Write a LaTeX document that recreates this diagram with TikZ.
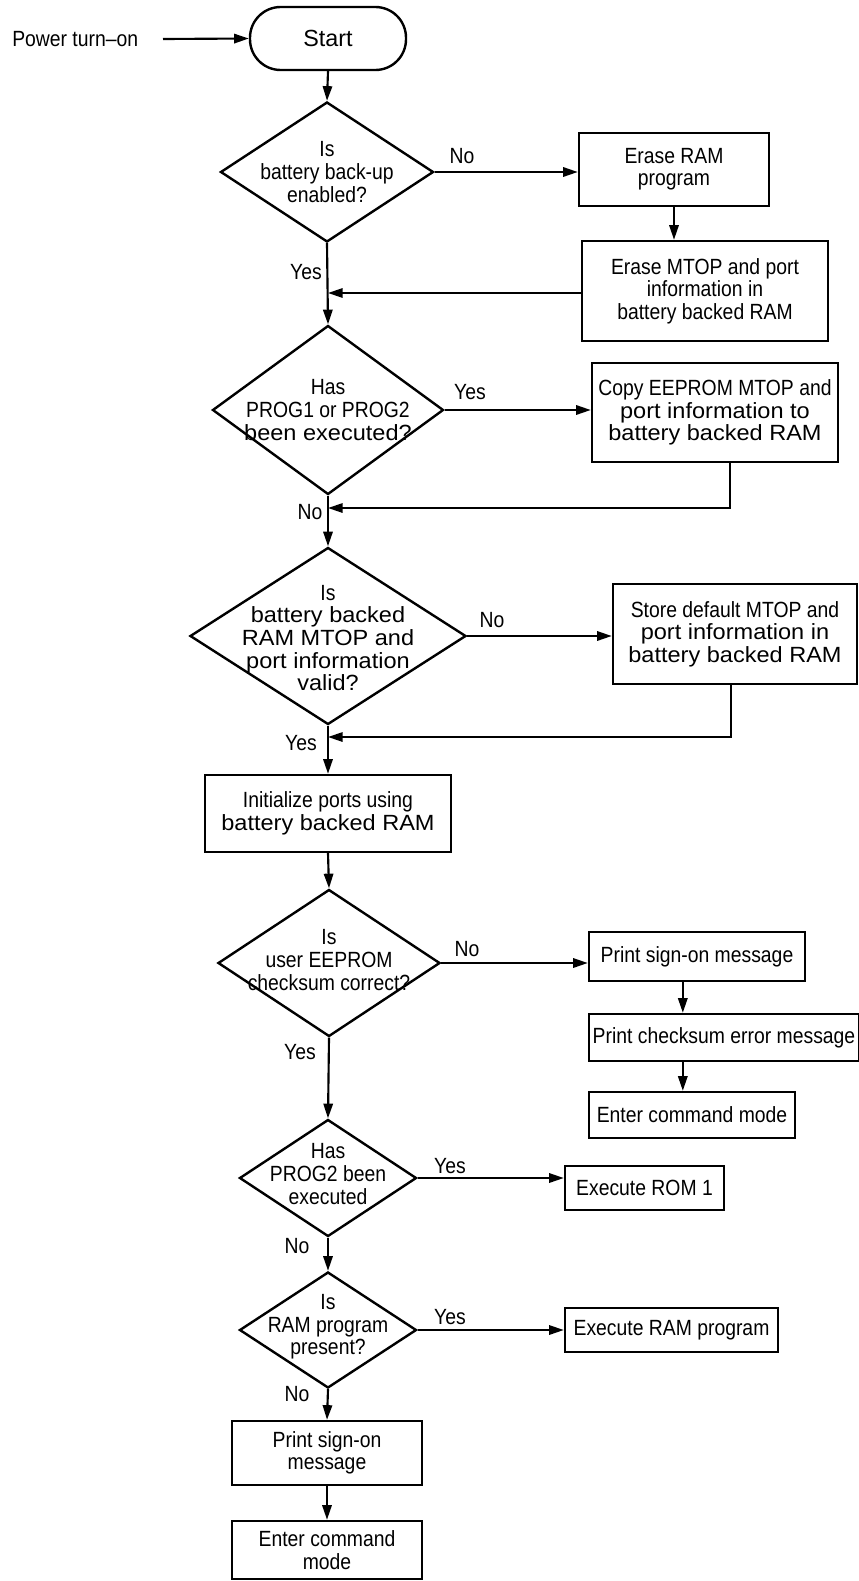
\documentclass[tikz,border=0pt]{standalone}
\usepackage{fontspec}
\setmainfont{Liberation Sans}[FakeStretch=0.88]
\newfontfamily\widefont{Liberation Sans}[FakeStretch=1.07]
\newfontfamily\plainfont{Liberation Sans}
\usetikzlibrary{shapes.geometric,arrows.meta,calc}
\begin{document}
\begin{tikzpicture}[x=0.75pt,y=-0.75pt,
  procbox/.style={draw, line width=1.8pt, rectangle, inner sep=2pt, align=center,
    font=\fontsize{16.5}{16.8}\selectfont},
  dia/.style={draw, line width=1.8pt, diamond, inner sep=0pt},
  dtext/.style={align=center, inner sep=0pt, font=\fontsize{16.5}{17}\selectfont},
  lbl/.style={inner sep=0pt, font=\fontsize{16.5}{16.5}\selectfont},
  arr/.style={line width=1.6pt, -{Triangle[length=11pt,width=7pt]}},
  ln/.style={line width=1.6pt}]
\useasboundingbox (0,0) rectangle (859,1581);

% start
\node[lbl, anchor=west] (pw) at (12,39) {Power turn–on};
\coordinate (pin) at (163,39);
\node[procbox, rounded corners=23pt, minimum width=117pt, minimum height=47.25pt,
  font=\plainfont\fontsize{17.5}{18}\selectfont] (start) at (328,38.5) {Start};

% decisions
\node[dia, minimum width=159.75pt, minimum height=105pt] (d1) at (327,172) {};
\node[dtext] at (d1) {Is\\battery back-up\\enabled?};
\node[dia, minimum width=173.25pt, minimum height=126.75pt] (d2) at (328,410) {};
\node[dtext] at (d2) {Has\\PROG1 or PROG2\\{\widefont been executed?}};
\node[dia, minimum width=207pt, minimum height=132.75pt] (d3) at (328,636) {};
\node[dtext] at ($(d3)+(0,2)$) {Is\\{\widefont battery backed}\\{\widefont RAM MTOP and}\\{\widefont port information}\\{\widefont valid?}};
\node[dia, minimum width=166.5pt, minimum height=110.25pt] (d5) at (329,963) {};
\node[dtext] at ($(d5)+(0,-3)$) {Is\\user EEPROM\\checksum correct?};
\node[dia, minimum width=132.75pt, minimum height=87.75pt] (d6) at (328,1178) {};
\node[dtext] at ($(d6)+(0,-4)$) {Has\\PROG2 been\\executed};
\node[dia, minimum width=132.75pt, minimum height=87pt] (d7) at (328,1330) {};
\node[dtext] at ($(d7)+(0,-3)$) {Is\\RAM program\\present?};

% process boxes
\node[procbox, minimum width=142.5pt, minimum height=54.75pt] (b1) at (674,169.5) {Erase RAM\\program};
\node[procbox, minimum width=184.5pt, minimum height=75pt] (b2) at (705,291) {Erase MTOP and port\\information in\\battery backed RAM};
\node[procbox, minimum width=184.5pt, minimum height=74.25pt] (b3) at (715,412.5) {Copy EEPROM MTOP and\\{\widefont port information to}\\{\widefont battery backed RAM}};
\node[procbox, minimum width=183pt, minimum height=75pt] (b4) at (735,634) {Store default MTOP and\\{\widefont port information in}\\{\widefont battery backed RAM}};
\node[procbox, minimum width=184.5pt, minimum height=57.75pt] (b5) at (328,813.5) {Initialize ports using\\{\widefont battery backed RAM}};
\node[procbox, minimum width=162pt, minimum height=36.75pt] (b6) at (697,956.5) {Print sign-on message};
\node[procbox, minimum width=202.5pt, minimum height=35.25pt, inner sep=1pt] (b7) at (724,1037.5) {Print checksum error message};
\node[procbox, minimum width=154.5pt, minimum height=34.5pt] (b8) at (692,1115) {Enter command mode};
\node[procbox, minimum width=119.25pt, minimum height=33pt] (b9) at (644.5,1188) {Execute ROM 1};
\node[procbox, minimum width=159.75pt, minimum height=33pt] (b10) at (671.5,1330) {Execute RAM program};
\node[procbox, minimum width=142.5pt, minimum height=48pt] (b11) at (327,1453) {Print sign-on\\message};
\node[procbox, minimum width=142.5pt, minimum height=43.5pt] (b12) at (327,1550) {Enter command\\mode};

% merge points
\coordinate (m1) at (328,293);
\coordinate (m2) at (328,508);
\coordinate (m3) at (328,737);

% main flow
\draw[arr] (pin) -- (start.west);
\draw[arr] (start.south) -- (d1.north);
\draw[arr] (d1.south) -- (d2.north);
\draw[arr] (d2.south) -- (d3.north);
\draw[arr] (d3.south) -- (b5.north);
\draw[arr] (b5.south) -- (d5.north);
\draw[arr] (d5.south) -- (d6.north);
\draw[arr] (d6.south) -- (d7.north);
\draw[arr] (d7.south) -- (b11.north);
\draw[arr] (b11.south) -- (b12.north);

% branches
\draw[arr] (d1.east) -- (d1.east -| b1.west);
\draw[arr] (b1.south) -- (b1.south |- b2.north);
\draw[arr] (b2.west |- m1) -- (m1);
\draw[arr] (d2.east) -- (d2.east -| b3.west);
\draw[arr] ($(b3.south)+(15,0)$) |- (m2);
\draw[arr] (d3.east) -- (d3.east -| b4.west);
\draw[arr] ($(b4.south)+(-4,0)$) |- (m3);
\draw[arr] (d5.east) -- (d5.east -| b6.west);
\draw[arr] ($(b6.south west)+(95,0)$) -- ($(b7.north west)+(95,0)$);
\draw[arr] ($(b7.south west)+(95,0)$) -- ($(b8.north west)+(95,0)$);
\draw[arr] (d6.east) -- (d6.east -| b9.west);
\draw[arr] (d7.east) -- (d7.east -| b10.west);

% labels
\node[lbl] at (462,156) {No};
\node[lbl] at (306,272) {Yes};
\node[lbl] at (470,392) {Yes};
\node[lbl] at (310,512) {No};
\node[lbl] at (492,620) {No};
\node[lbl] at (301,743) {Yes};
\node[lbl] at (467,949) {No};
\node[lbl] at (300,1052) {Yes};
\node[lbl] at (450,1166) {Yes};
\node[lbl] at (297,1246) {No};
\node[lbl] at (450,1317) {Yes};
\node[lbl] at (297,1394) {No};
\end{tikzpicture}
\end{document}
